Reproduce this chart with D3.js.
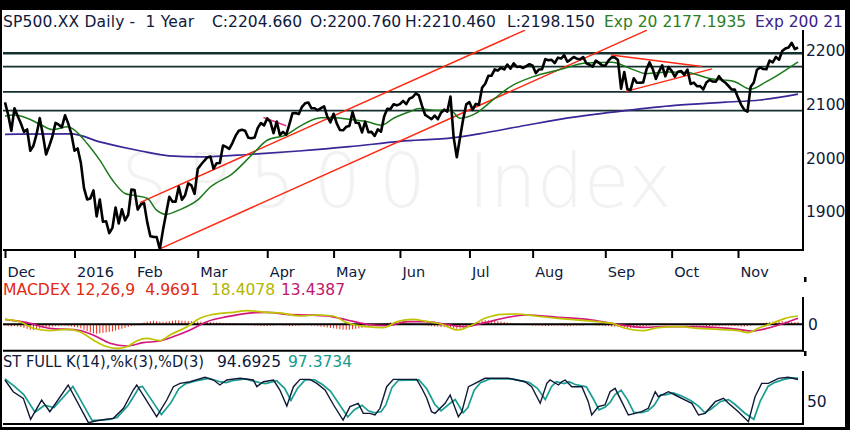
<!DOCTYPE html>
<html>
<head>
<meta charset="utf-8">
<script src="https://cdn.jsdelivr.net/npm/d3@7/dist/d3.min.js"></script>
<style>
  body { margin: 0; background: #000; }
  svg { display: block; font-family: "DejaVu Sans", sans-serif; }
  .pre { white-space: pre; }
</style>
</head>
<body>
<script>
// ---- data (x is trading-day index, Dec 1 2015 = 0) ----
var monthIdx = [0, 22, 41, 61, 83, 104, 125, 147, 167, 190, 211, 232];
var monthLabels = ["Dec", "2016", "Feb", "Mar", "Apr", "May", "Jun", "Jul", "Aug", "Sep", "Oct", "Nov"];
var priceTicks = [1900, 2000, 2100, 2200];

var closes = [
  2102.6, 2079.5, 2049.6, 2091.7, 2077.1, 2063.6, 2047.6, 2052.2, 2012.4, 2021.9, 2043.4, 2073.1, 2041.9, 2005.6, 2021.2, 2039.0, 2064.3, 2061.0, 2056.5, 2078.4, 2063.4, 2043.9,
  2012.7, 2016.7, 1990.3, 1943.1, 1922.0, 1923.7, 1938.7, 1890.3, 1921.8, 1880.3, 1881.3, 1859.3, 1869.0, 1906.9, 1877.1, 1903.6, 1883.0, 1893.4, 1940.2,
  1939.4, 1903.0, 1912.5, 1915.5, 1880.1, 1853.4, 1852.2, 1851.9, 1829.1, 1864.8, 1895.6, 1926.8, 1917.8, 1917.8, 1945.5, 1921.3, 1929.8, 1951.7, 1948.1, 1932.2,
  1978.4, 1986.5, 1993.4, 2000.0, 2001.8, 1979.3, 1989.3, 1989.6, 2022.2, 2019.6, 2015.9, 2027.2, 2040.6, 2049.6, 2051.6, 2049.8, 2036.7, 2035.9, 2037.1, 2055.0, 2064.0, 2059.7,
  2072.8, 2066.1, 2045.2, 2066.7, 2041.9, 2047.6, 2042.0, 2061.7, 2082.4, 2082.8, 2080.7, 2094.3, 2100.8, 2102.4, 2091.5, 2091.6, 2087.8, 2091.7, 2095.2, 2075.8, 2065.3,
  2081.4, 2063.4, 2051.1, 2050.6, 2057.1, 2058.7, 2084.4, 2064.5, 2064.1, 2046.6, 2066.7, 2047.2, 2047.6, 2040.0, 2052.3, 2048.0, 2076.1, 2090.5, 2090.1, 2099.1, 2097.0,
  2099.3, 2105.3, 2099.1, 2109.4, 2112.1, 2119.1, 2115.5, 2096.1, 2079.1, 2075.3, 2071.5, 2078.0, 2071.2, 2083.3, 2088.9, 2085.5, 2113.3, 2037.4, 2000.5, 2036.1, 2070.8, 2098.9,
  2103.0, 2088.6, 2099.7, 2097.9, 2129.9, 2137.2, 2152.1, 2152.4, 2163.8, 2161.7, 2166.9, 2163.8, 2173.0, 2165.2, 2175.0, 2168.5, 2169.2, 2166.6, 2170.1, 2173.6,
  2170.8, 2157.0, 2163.8, 2164.3, 2182.9, 2180.9, 2181.7, 2175.5, 2185.8, 2184.1, 2190.2, 2178.2, 2182.2, 2187.0, 2183.9, 2182.6, 2186.9, 2175.4, 2172.5, 2169.0, 2180.4, 2176.1, 2171.0,
  2170.9, 2180.0, 2186.5, 2186.2, 2181.3, 2127.8, 2159.0, 2127.0, 2125.8, 2147.3, 2139.2, 2139.1, 2139.8, 2163.1, 2177.2, 2164.7, 2146.1, 2159.9, 2171.4, 2151.1, 2168.3,
  2161.2, 2150.5, 2159.7, 2160.8, 2153.7, 2163.7, 2136.7, 2139.2, 2132.6, 2133.0, 2126.5, 2139.6, 2144.3, 2141.3, 2141.2, 2151.3, 2143.2, 2139.4, 2133.0, 2126.4, 2126.2,
  2111.7, 2097.9, 2088.7, 2085.2, 2131.5, 2139.6, 2163.3, 2167.5, 2164.5, 2164.2, 2180.4, 2176.9, 2187.1, 2181.9, 2198.2, 2202.9, 2204.7, 2213.4, 2201.7, 2204.7
];

var ema20 = [[0,2077],[3,2079],[7,2073],[11,2062],[15,2052],[20,2057],[22,2051],[26,2026],[30,1995],[34,1958],[38,1933],[41,1929],[45,1924],[48,1902],[51,1894],[55,1902],[61,1921],[65,1945],[72,1970],[78,2004],[83,2032],[89,2042],[93,2057],[100,2074],[104,2074],[110,2070],[115,2066],[119,2060],[123,2073],[128,2085],[131,2091],[136,2088],[141,2088],[144,2073],[149,2082],[155,2110],[160,2132],[167,2150],[176,2164],[184,2176],[192,2177],[199,2163],[203,2156],[210,2159],[216,2158],[223,2147],[231,2141],[236,2127],[241,2141],[251,2178]];
var ema200 = [[0,2043],[21,2044],[30,2029],[43,2012],[52,2003],[62,2001],[78,2006],[93,2012],[109,2020],[125,2030],[142,2037],[150,2044],[165,2060],[180,2075],[196,2087],[212,2097],[228,2103],[239,2107],[251,2118]];

var levels = [2194, 2169, 2122, 2087];
var trendLines = [
  [[42.7,1916],[164.6,2237]],
  [[49,1830],[203.2,2237]],
  [[191.8,2190.7],[220.6,2169.3]],
  [[196.6,2123],[223.8,2165]]
];
var pinkLine = [[81.8,2074.5],[89,2058.9]];

var macd = [[0,11.1],[4.7,5.8],[8.9,-8.9],[14.2,-14.2],[19.6,-11.1],[23.7,-16.4],[27.9,-34.9],[32.3,-49.8],[35.5,-53.3],[38.6,-49.8],[41.8,-36.4],[45,-31.1],[49,-36.4],[52.2,-23.8],[57.6,-5.3],[61.7,13.3],[64.9,20.7],[72.2,26.7],[76.6,30.2],[82.9,26.7],[88,24.4],[93.4,18.4],[98.8,20.7],[103.8,18.4],[108.3,3.6],[114.6,-5.3],[119.7,-7.6],[124.1,5.8],[129.2,11.1],[133,7],[138.3,0],[143.4,-12.7],[147.8,-1.6],[151.9,13.3],[157.3,22.2],[162.4,22.9],[167.8,18.4],[175,13.3],[183.6,8],[192.2,2.2],[196.3,-8.9],[201.6,-14.2],[206.7,-7.6],[213,-5.3],[219.4,-8.9],[225.7,-11.1],[232,-14.2],[235.2,-18.7],[238.4,-8.9],[242.8,2.2],[246.9,13.3],[251,18.4]];
var signal = [[0,11.1],[7,3.6],[14.2,-8.9],[22.8,-12.7],[27.9,-23.8],[33.2,-42.2],[38.6,-48.2],[43.7,-40.9],[49,-37.1],[53.2,-27.6],[58.6,-12.7],[63.9,5.8],[70.3,16.9],[76.6,24.4],[82.9,26.7],[89.3,22.2],[95.6,20.7],[101.9,18.4],[108.3,9.6],[114.6,0],[120.9,-3.1],[127.3,5.8],[133,5.8],[139.3,0],[145.6,-5.3],[151.9,3.6],[159.2,15.6],[164.6,20.7],[175,15.6],[185.8,9.6],[194,0],[201.6,-6.7],[208.9,-5.3],[217.5,-5.3],[225.7,-7.6],[232,-11.1],[236.5,-14.9],[242.8,-6],[251,13.4]];
var hist = [
  -3,-4,-5,-4,-5,-6, -8,-10,-12,-13,-12,-10,-9,
  -7,-6,-5,-4,-4,-3,-3,-4,-5,-6,-7,-9,
  -12,-15,-18,-20,-21,-20,-19,-18,-17,-16,-14,-12,-10,
  -8,-6,-4,-3,-2,
  2,4,6,7,8,7,6,5,6,7,8,9,9,8,8,7,7,6,
  6,6,5,5,5,4,4,4,3,3,3,2,2,1,1,
  -1,-2,-2,-3,-3,-4,-4,-4,-3,-3,-2,-2,-3,-3,-4,-4,-3,-3,-2,-2,-2,-3,-3,-4,
  -5,-6,-7,-8,-9,-10,-11,-12,-12,-12,-11,-10,-9,-8,-7,-5,
  -3,-2,0,1,2,3,4,5,5,5,4,4,3,2,1,
  0,-1,-2,-3,-4,-5,-5,-6,-6,-7,-8,-9,-10,-10,-8,
  -5,-2,1,4,6,8,9,9,8,8,7,6,5,4,3,
  2,1,0,-1,-2,-2,-3,-3,-3,-4,-4,-4,-3,-3,-3,-3,-4,-4,-4,-3,-3,-3,-3,-2,-2,-2,-3,-3,-3,-4,-4,-5,-5,-6,-7,
  -8,-9,-9,-8,-7,-6,-5,-4,-3,-2,-1,-1,-1,0,0,
  -1,-1,-1,-2,-2,-2,-2,-3,-3,-3,-3,-4,-4,-4,-4,-4,-3,-3,-3,-3,-4,-4,-5,-5,-4,
  -3,-1,1,2,3,4,5,6,6,7,7,6,6,5,5,5
];

var stochK = [[0,93.6],[2.6,68.7],[5.8,54.6],[8.1,10],[11.6,51],[14.2,26.2],[20,83],[26.4,2.8],[29,7],[32.2,10],[34.3,12],[37.5,33.4],[40.6,72.3],[41.7,83],[48,15.6],[51.2,51],[53.3,79.4],[55.4,86.5],[58.6,90],[63.3,99.3],[66,93.6],[68,83],[70.2,93.6],[74.4,97.2],[78.6,93.6],[79.7,79.4],[81.8,90],[85,93.6],[87,72.3],[89.2,38.3],[91.3,79.4],[93.4,95],[96.5,95],[98.7,86.5],[101.3,72.3],[104,40.4],[107,8.5],[109.2,36.9],[111.8,44],[113.4,22.7],[115.5,22.7],[117.1,19.1],[118.7,33.4],[120.8,79.4],[122.9,95],[130.3,95],[132,75],[133.5,55],[135,26.2],[136.1,22.7],[139.3,44],[140.9,61.7],[143.5,15.6],[144.6,26.2],[146.7,79.4],[148.8,86.5],[151.9,97.2],[159.3,97.2],[164.6,90],[166.7,79.4],[169.4,44],[171.5,86.5],[172.5,93.6],[175.2,83],[176.2,90],[177.3,93.6],[179.4,79.4],[182.6,79.4],[184.6,47.5],[185.7,19.1],[187.8,36.9],[189.9,40.4],[191.5,68.7],[193.1,75.9],[195.2,47.5],[197.3,19.1],[199.4,22.7],[201.5,26.2],[203.6,33.4],[205.8,68.7],[206.8,58],[210,68.7],[212.1,61.7],[215.3,51],[217.4,44],[219.5,19.1],[221.6,22.7],[224.8,47.5],[227.4,54.6],[229,44],[232.1,26.2],[235.3,5],[237.4,58],[239.5,86.5],[241.6,86.5],[244.8,97.2],[247.9,99.3],[251,94.7]];
var stochD = [[0,96],[3,80],[6,62],[9.5,25],[12.5,40],[15.5,35],[21.5,80],[27.5,8],[30,8],[33,10],[35.5,14],[39,40],[42.5,78],[43.5,80],[49.5,20],[52.5,45],[55,75],[57,85],[60,91],[64.5,97],[68,90],[70,88],[72,92],[76,96],[80.5,88],[82.5,86],[86,92],[88.5,76],[90.5,50],[92.5,75],[95,94],[98,94],[100.5,84],[103,70],[106,40],[108.5,15],[110.5,30],[113,40],[115,28],[117,24],[119,26],[120.5,40],[122.5,78],[124.5,93],[131,94],[133.5,75],[136,42],[138,28],[140.5,42],[142.5,52],[145,24],[146.5,35],[148.5,72],[150.5,88],[153.5,96],[160.5,96],[166,88],[168.5,76],[171,52],[173,80],[174.5,90],[177,86],[178.5,90],[180.5,84],[184,79],[186.5,50],[188,30],[190,36],[191.5,46],[193,62],[195,72],[197,52],[199,25],[201.5,24],[203.5,28],[205.5,40],[207.5,62],[209,62],[211.5,66],[214,60],[217,50],[219.5,38],[221.5,24],[223.5,32],[226.5,48],[229,52],[231,42],[234,24],[237,10],[239,48],[241.5,80],[243.5,88],[246.5,95],[249,98],[251,97.4]];

// ---- drawing ----
var width = 850, height = 430;
var navy = "#0d1a3c";
var svg = d3.select("body").append("svg").attr("width", width).attr("height", height);

svg.append("rect").attr("width", width).attr("height", height).attr("fill", "#000");
svg.append("rect").attr("x", 2).attr("y", 10).attr("width", 843).attr("height", 417).attr("fill", "#fff");

var x = d3.scaleLinear().domain([0, 232]).range([5, 738]);
var y = d3.scaleLinear().domain([1900, 2200]).range([211.2, 50]);
var yM = d3.scaleLinear().domain([0, 20]).range([324.3, 315.3]);
var yS = d3.scaleLinear().domain([0, 100]).range([424, 377]);

svg.append("clipPath").attr("id", "clipMain")
  .append("rect").attr("x", 3).attr("y", 30).attr("width", 800).attr("height", 220);

// watermark
var wm = svg.append("g").attr("fill", "#f2f2f2").attr("font-size", 74).attr("font-weight", 200);
wm.append("text").attr("x", 121).attr("y", 207).attr("letter-spacing", 18).text("SP500");
wm.append("text").attr("x", 468).attr("y", 207).text("Index");

var main = svg.append("g").attr("clip-path", "url(#clipMain)");

main.selectAll("line.level").data(levels).enter().append("line")
  .attr("class", "level")
  .attr("x1", 3).attr("x2", 803)
  .attr("y1", d => y(d)).attr("y2", d => y(d))
  .attr("stroke", "#14302e")
  .attr("stroke-width", (d, i) => i === 0 ? 2.4 : 1.7);

var pairLine = function (ys, curve) {
  return d3.line().x(d => x(d[0])).y(d => ys(d[1])).curve(curve || d3.curveLinear);
};

main.append("path").datum(ema200).attr("d", pairLine(y, d3.curveMonotoneX))
  .attr("fill", "none").attr("stroke", "#3b2597").attr("stroke-width", 1.7);

main.selectAll("path.trend").data(trendLines).enter().append("path")
  .attr("class", "trend").attr("d", pairLine(y))
  .attr("fill", "none").attr("stroke", "#ff2810").attr("stroke-width", 1.4);

main.append("path").datum(pinkLine).attr("d", pairLine(y))
  .attr("fill", "none").attr("stroke", "#e8308c").attr("stroke-width", 1.6);

main.append("path").datum(ema20).attr("d", pairLine(y, d3.curveMonotoneX))
  .attr("fill", "none").attr("stroke", "#1b7a1b").attr("stroke-width", 1.5);

main.append("path").datum(closes)
  .attr("d", d3.line().x((d, i) => x(i)).y(d => y(d)))
  .attr("fill", "none").attr("stroke", "#000").attr("stroke-width", 2.6).attr("stroke-linejoin", "round");

// frame lines
var frame = svg.append("g").attr("stroke", "#000").attr("stroke-width", 2);
frame.append("line").attr("x1", 3).attr("x2", 804).attr("y1", 250).attr("y2", 250);
frame.append("line").attr("x1", 803).attr("x2", 803).attr("y1", 30).attr("y2", 251);
frame.append("line").attr("x1", 3).attr("x2", 804).attr("y1", 350.7).attr("y2", 350.7);
frame.append("line").attr("x1", 803).attr("x2", 803).attr("y1", 297).attr("y2", 351.5);
frame.append("line").attr("x1", 3).attr("x2", 804).attr("y1", 424).attr("y2", 424);
frame.append("line").attr("x1", 803).attr("x2", 803).attr("y1", 371).attr("y2", 425);
svg.append("rect").attr("x", 804).attr("y", 277).attr("width", 2.5).attr("height", 5).attr("fill", "#000");
svg.append("rect").attr("x", 804).attr("y", 351).attr("width", 2.5).attr("height", 5).attr("fill", "#000");

// month axis
var gx = svg.append("g").attr("transform", "translate(0,250)")
  .call(d3.axisBottom(x).tickValues(monthIdx).tickFormat((d, i) => monthLabels[i]).tickSize(8).tickSizeOuter(0));
gx.attr("font-family", "DejaVu Sans").attr("font-size", 14.5);
gx.select(".domain").remove();
gx.selectAll(".tick line").attr("stroke", "#000").attr("stroke-width", 2);
gx.selectAll(".tick text").attr("x", 2).attr("y", 26.5).attr("dy", null)
  .attr("text-anchor", "start").attr("fill", navy);

// price axis
var gy = svg.append("g").attr("transform", "translate(803,0)")
  .call(d3.axisRight(y).tickValues(priceTicks).tickSize(0).tickPadding(3).tickFormat(d3.format("d")));
gy.attr("font-family", "DejaVu Sans").attr("font-size", 15.5);
gy.select(".domain").remove();
gy.selectAll(".tick text").attr("dy", "0.36em").attr("fill", navy);

// header
var header = svg.append("g").attr("font-size", 15.5).attr("fill", navy);
header.append("text").attr("class", "pre").attr("x", 3).attr("y", 27)
  .attr("textLength", 191).attr("lengthAdjust", "spacing").text("SP500.XX Daily -  1 Year");
header.append("text").attr("x", 212).attr("y", 27).text("C:2204.660");
header.append("text").attr("x", 310).attr("y", 27).text("O:2200.760");
header.append("text").attr("x", 405).attr("y", 27).text("H:2210.460");
header.append("text").attr("x", 507).attr("y", 27).text("L:2198.150");
header.append("text").attr("x", 604).attr("y", 27).attr("fill", "#2c7d1e").text("Exp 20 2177.1935");
header.append("text").attr("x", 755).attr("y", 27).attr("fill", "#3a2088").text("Exp 200 21");

// MACD panel
var macdG = svg.append("g");
macdG.selectAll("line.hist").data(hist).enter().append("line")
  .attr("class", "hist")
  .attr("x1", (d, i) => x(i)).attr("x2", (d, i) => x(i))
  .attr("y1", yM(0)).attr("y2", d => yM(d))
  .attr("stroke", "#f02a12").attr("stroke-width", 1);
macdG.append("line").attr("x1", 3).attr("x2", 803).attr("y1", yM(0)).attr("y2", yM(0))
  .attr("stroke", "#000").attr("stroke-width", 2);
macdG.append("path").datum(signal).attr("d", pairLine(yM, d3.curveMonotoneX))
  .attr("fill", "none").attr("stroke", "#d4177a").attr("stroke-width", 1.7);
macdG.append("path").datum(macd).attr("d", pairLine(yM, d3.curveMonotoneX))
  .attr("fill", "none").attr("stroke", "#bfc400").attr("stroke-width", 1.7);

var gm = svg.append("g").attr("transform", "translate(803,0)")
  .call(d3.axisRight(yM).tickValues([0]).tickSize(0).tickPadding(5));
gm.attr("font-family", "DejaVu Sans").attr("font-size", 15.5);
gm.select(".domain").remove();
gm.selectAll(".tick text").attr("dy", "0.36em").attr("fill", navy);

var mLab = svg.append("g").attr("font-size", 15.5);
mLab.append("text").attr("class", "pre").attr("x", 3).attr("y", 295).attr("fill", "#e22a14")
  .attr("textLength", 197).attr("lengthAdjust", "spacingAndGlyphs").text("MACDEX 12,26,9  4.9691");
mLab.append("text").attr("x", 211).attr("y", 295).attr("fill", "#b3b500").text("18.4078");
mLab.append("text").attr("x", 281).attr("y", 295).attr("fill", "#c0186e").text("13.4387");

// stochastic panel
var stG = svg.append("g");
stG.append("path").datum(stochD).attr("d", pairLine(yS))
  .attr("fill", "none").attr("stroke", "#1a9e90").attr("stroke-width", 1.7);
stG.append("path").datum(stochK).attr("d", pairLine(yS))
  .attr("fill", "none").attr("stroke", "#101838").attr("stroke-width", 1.4);

var gs = svg.append("g").attr("transform", "translate(803,0)")
  .call(d3.axisRight(yS).tickValues([50]).tickSize(0).tickPadding(4));
gs.attr("font-family", "DejaVu Sans").attr("font-size", 15.5);
gs.select(".domain").remove();
gs.selectAll(".tick text").attr("dy", "0.36em").attr("fill", navy);

var sLab = svg.append("g").attr("font-size", 15.5);
sLab.append("text").attr("x", 3).attr("y", 367).attr("fill", navy)
  .attr("textLength", 201).attr("lengthAdjust", "spacingAndGlyphs").text("ST FULL K(14),%k(3),%D(3)");
sLab.append("text").attr("x", 217).attr("y", 367).attr("fill", navy).text("94.6925");
sLab.append("text").attr("x", 288).attr("y", 367).attr("fill", "#159a8c").text("97.3734");

// right edge of frame over clipped header text
svg.append("rect").attr("x", 845).attr("y", 0).attr("width", 5).attr("height", height).attr("fill", "#000");
</script>
</body>
</html>
